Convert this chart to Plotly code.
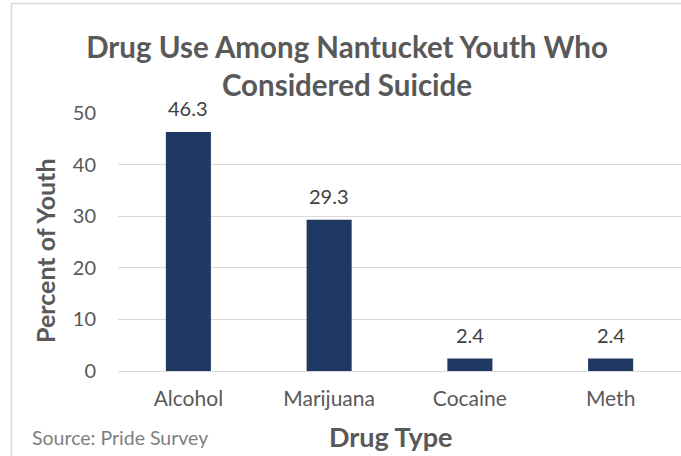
import plotly.graph_objects as go

# Survey results: share of youth who considered suicide and reported using each drug
drug_types = ["Alcohol", "Marijuana", "Cocaine", "Meth"]
percent_of_youth = [46.3, 29.3, 2.4, 2.4]
y_ticks = [0, 10, 20, 30, 40, 50]

FONT = "Lato"
BAR_COLOR = "#203864"
GRID = "#D9D9D9"
TEXT_GRAY = "#595959"

W, H = 681, 456
M_L, M_R, M_T, M_B = 118, 0, 113, 85
PW, PH = W - M_L - M_R, H - M_T - M_B


def px_x(x):
    return (x - M_L) / PW


def px_y(y):
    return (H - M_B - y) / PH


fig = go.Figure(
    go.Bar(
        x=drug_types,
        y=percent_of_youth,
        width=0.32,
        marker=dict(color=BAR_COLOR, line=dict(width=0)),
        hoverinfo="skip",
    )
)

# value labels above each bar
for cat, val in zip(drug_types, percent_of_youth):
    fig.add_annotation(
        x=cat, y=val, xref="x", yref="y",
        text=f"{val:.1f}", showarrow=False,
        yanchor="bottom", yshift=10,
        font=dict(family=FONT, size=20, color="#404040"),
    )

# axis titles and source note
fig.add_annotation(
    x=px_x(45), y=px_y(251), xref="paper", yref="paper",
    text="<b>Percent of Youth</b>", textangle=-90, showarrow=False,
    xanchor="center", yanchor="middle",
    font=dict(family=FONT, size=25, color=TEXT_GRAY),
)
fig.add_annotation(
    x=px_x(391), y=px_y(436), xref="paper", yref="paper",
    text="<b>Drug Type</b>", showarrow=False,
    xanchor="center", yanchor="middle",
    font=dict(family=FONT, size=27, color=TEXT_GRAY),
)
fig.add_annotation(
    x=px_x(30), y=px_y(437), xref="paper", yref="paper",
    text="Source: Pride Survey", showarrow=False,
    xanchor="left", yanchor="middle",
    font=dict(family=FONT, size=19.5, color="#7F7F7F"),
)

# chart-area border (left and top edges fall inside the page)
fig.add_shape(
    type="rect", xref="paper", yref="paper",
    x0=px_x(11.5), x1=px_x(W + 10), y0=px_y(H + 10), y1=px_y(3.5),
    line=dict(color="#D9D9D9", width=1.5), layer="below",
)

fig.update_layout(
    width=W, height=H,
    margin=dict(l=M_L, r=M_R, t=M_T, b=M_B, autoexpand=False),
    paper_bgcolor="white", plot_bgcolor="white",
    showlegend=False,
    bargap=0.68,
    title=dict(
        text="<b>Drug Use Among Nantucket Youth Who<br>Considered Suicide</b>",
        x=347 / W, xanchor="center", xref="container",
        y=1 - 58 / H, yanchor="middle", yref="container",
        font=dict(family=FONT, size=29.5, color=TEXT_GRAY),
    ),
    xaxis=dict(
        showgrid=False, zeroline=False, showline=False,
        ticks="", ticklabelstandoff=13,
        tickfont=dict(family=FONT, size=21, color=TEXT_GRAY),
        fixedrange=True,
    ),
    yaxis=dict(
        range=[0, 50], tickvals=y_ticks,
        showgrid=True, gridcolor=GRID, gridwidth=1,
        zeroline=True, zerolinecolor=GRID, zerolinewidth=1,
        showline=False, ticks="", ticklabelstandoff=21,
        tickfont=dict(family=FONT, size=20, color=TEXT_GRAY),
        fixedrange=True,
    ),
)

fig.write_html("out.html")
